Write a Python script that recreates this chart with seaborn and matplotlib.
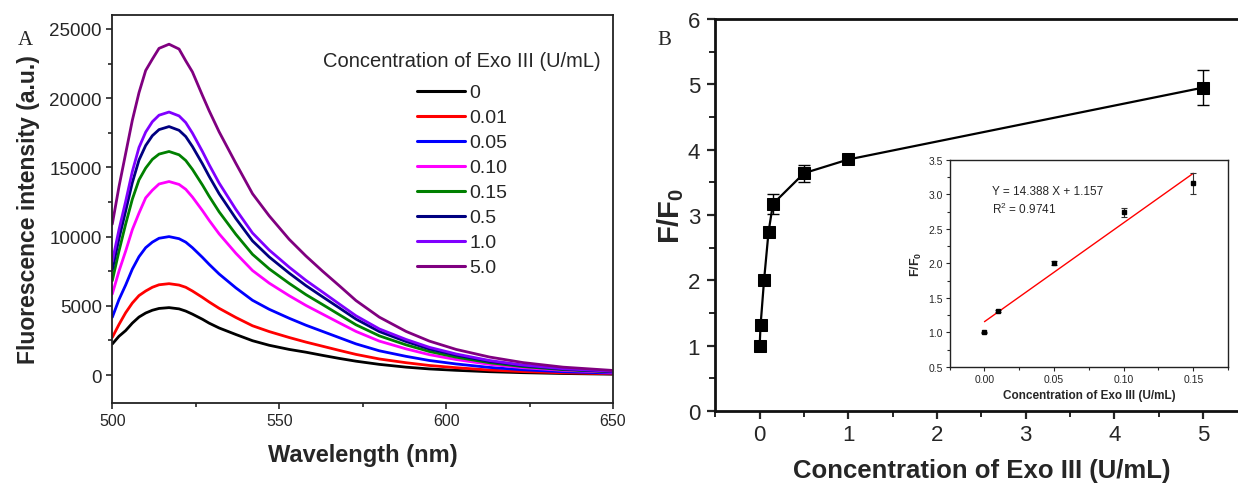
import numpy as np
import pandas as pd
import matplotlib
matplotlib.use("Agg")
import matplotlib.pyplot as plt
import seaborn as sns
from matplotlib.ticker import MultipleLocator, FormatStrFormatter

# ---------------- data: panel A (fluorescence spectra) ----------------
wavelength = [500, 502, 504, 506, 508, 510, 512, 514, 517, 520, 522, 524, 527, 529, 532, 537,
              542, 547, 553, 558, 563, 568, 573, 580, 588, 595, 603, 613, 623, 635, 650]
conc_labels = ["0", "0.01", "0.05", "0.10", "0.15", "0.5", "1.0", "5.0"]
int_0   = [2240, 2800, 3210, 3750, 4190, 4480, 4680, 4810, 4870, 4780, 4620, 4400, 4030, 3750, 3400, 2930,
           2480, 2150, 1850, 1650, 1420, 1200, 1000, 770, 570, 440, 340, 240, 170, 110, 60]
int_001 = [2720, 3650, 4500, 5200, 5740, 6070, 6340, 6520, 6600, 6500, 6340, 6070, 5610, 5280, 4820, 4160,
           3560, 3140, 2710, 2380, 2080, 1780, 1490, 1160, 890, 690, 530, 360, 250, 160, 90]
int_005 = [4170, 5450, 6500, 7650, 8550, 9200, 9600, 9880, 10000, 9850, 9600, 9200, 8500, 8000, 7300, 6300,
           5400, 4750, 4100, 3600, 3150, 2700, 2250, 1750, 1350, 1050, 800, 550, 380, 240, 140]
int_010 = [5850, 7500, 8950, 10500, 11700, 12800, 13350, 13800, 13980, 13770, 13420, 12860, 11880, 11180, 10200, 8800,
           7550, 6640, 5730, 5030, 4400, 3770, 3150, 2450, 1890, 1470, 1120, 770, 530, 340, 200]
int_015 = [6810, 8950, 10900, 12700, 14100, 14950, 15580, 15960, 16150, 15910, 15500, 14860, 13730, 12920, 11790, 10170,
           8720, 7670, 6620, 5810, 5090, 4360, 3630, 2830, 2180, 1700, 1290, 890, 610, 390, 230]
int_05  = [7600, 9850, 11850, 13900, 15530, 16580, 17290, 17730, 17950, 17680, 17230, 16510, 15260, 14360, 13100, 11310,
           9690, 8530, 7360, 6460, 5650, 4850, 4040, 3140, 2420, 1880, 1440, 990, 680, 430, 250]
int_10  = [8200, 10500, 12540, 14700, 16440, 17550, 18300, 18770, 19000, 18720, 18240, 17480, 16150, 15200, 13870, 11970,
           10260, 9030, 7790, 6840, 5990, 5130, 4280, 3330, 2570, 2000, 1520, 1050, 720, 460, 270]
int_50  = [10900, 13600, 16000, 18400, 20400, 22000, 22820, 23600, 23900, 23550, 22700, 21900, 20200, 19100, 17570, 15300,
           13100, 11500, 9800, 8600, 7500, 6450, 5380, 4180, 3150, 2450, 1850, 1300, 900, 570, 330]
spectra = [int_0, int_001, int_005, int_010, int_015, int_05, int_10, int_50]
line_colors = ["#000000", "#ff0000", "#0000ff", "#ff00ff", "#008000", "#000080", "#8000ff", "#800080"]

# ---------------- data: panel B ----------------
conc = [0, 0.01, 0.05, 0.10, 0.15, 0.5, 1.0, 5.0]
ratio = [1.00, 1.31, 2.01, 2.74, 3.17, 3.64, 3.85, 4.95]
ratio_err = [0.02, 0.02, 0.03, 0.06, 0.15, 0.13, 0.04, 0.27]

lin_conc = [0, 0.01, 0.05, 0.10, 0.15]
lin_ratio = [1.00, 1.31, 2.01, 2.74, 3.16]
lin_err = [0.01, 0.02, 0.03, 0.07, 0.15]

# ---------------- style ----------------
sns.set_theme(style="ticks")
plt.rcParams["font.family"] = ["Liberation Sans", "DejaVu Sans"]
plt.rcParams["mathtext.fontset"] = "custom"
plt.rcParams["mathtext.rm"] = "Liberation Sans"
plt.rcParams["mathtext.bf"] = "Liberation Sans:bold"

fig = plt.figure(figsize=(12.38, 4.89), dpi=100)

# ---------------- panel A ----------------
axA = fig.add_axes([0.0907, 0.1744, 0.4045, 0.7926])
rows = []
for lab, vals in zip(conc_labels, spectra):
    for w, v in zip(wavelength, vals):
        rows.append({"wl": w, "I": v, "conc": lab})
dfA = pd.DataFrame(rows)
sns.lineplot(data=dfA, x="wl", y="I", hue="conc", hue_order=conc_labels,
             palette=dict(zip(conc_labels, line_colors)), estimator=None,
             linewidth=2, ax=axA)
axA.set_xlim(500, 650)
axA.set_ylim(-2000, 26000)
axA.xaxis.set_major_locator(MultipleLocator(50))
axA.xaxis.set_minor_locator(MultipleLocator(25))
axA.yaxis.set_major_locator(MultipleLocator(5000))
axA.yaxis.set_minor_locator(MultipleLocator(2500))
axA.tick_params(axis="both", which="major", direction="out", length=4, width=1.2)
axA.tick_params(axis="both", which="minor", direction="out", length=3, width=1.2)
axA.tick_params(axis="y", labelsize=13.5)
axA.tick_params(axis="x", labelsize=11.5)
for s in axA.spines.values():
    s.set_linewidth(1.3)
    s.set_color("#222222")
axA.set_xlabel("Wavelength (nm)", fontsize=17, fontweight="bold", labelpad=11)
axA.set_ylabel("Fluorescence intensity (a.u.)", fontsize=16.5, fontweight="bold", labelpad=7)
h, l = axA.get_legend_handles_labels()
leg = axA.legend(h, l, title="Concentration of Exo III (U/mL)", loc="upper right",
                 bbox_to_anchor=(1.003, 0.943), frameon=False, fontsize=14, title_fontsize=14.5,
                 handlelength=2.45, handletextpad=0.22, labelspacing=0.38, borderpad=0.2)
leg._legend_box.sep = 10
for line in leg.get_lines():
    line.set_linewidth(2.2)

# ---------------- panel B ----------------
axB = fig.add_axes([0.5778, 0.1575, 0.4299, 0.8016])
sns.lineplot(x=conc, y=ratio, ax=axB, color="black", linewidth=1.6, marker="s",
             markersize=9, markeredgecolor="black", markerfacecolor="black", estimator=None)
axB.errorbar(conc, ratio, yerr=ratio_err, fmt="none", ecolor="black",
             elinewidth=1.0, capsize=4, capthick=1.0)
axB.set_xlim(-0.5, 5.5)
axB.set_ylim(0, 6)
axB.xaxis.set_major_locator(MultipleLocator(1))
axB.xaxis.set_minor_locator(MultipleLocator(0.5))
axB.yaxis.set_major_locator(MultipleLocator(1))
axB.yaxis.set_minor_locator(MultipleLocator(0.5))
axB.tick_params(axis="both", which="major", direction="out", length=6, width=1.6, labelsize=16)
axB.tick_params(axis="y", which="major", pad=5)
axB.tick_params(axis="both", which="minor", direction="out", length=4, width=1.4)
for s in axB.spines.values():
    s.set_linewidth(2)
    s.set_color("#111111")
axB.set_xlabel("Concentration of Exo III (U/mL)", fontsize=18.5, fontweight="bold", labelpad=9)
axB.set_ylabel(r"F/F$_{\mathbf{0}}$", fontsize=21, fontweight="bold", labelpad=1)

# ---------------- inset ----------------
axI = fig.add_axes([0.7671, 0.248, 0.2249, 0.4227])
sns.regplot(x=lin_conc, y=lin_ratio, ax=axI, scatter=False, ci=None, color="red",
            line_kws=dict(linewidth=1.0))
axI.errorbar(lin_conc, lin_ratio, yerr=lin_err, fmt="s", markersize=3, color="black",
             ecolor="#333333", elinewidth=0.8, capsize=2, capthick=0.8)
axI.set_xlim(-0.025, 0.175)
axI.set_ylim(0.5, 3.5)
axI.xaxis.set_major_locator(MultipleLocator(0.05))
axI.xaxis.set_minor_locator(MultipleLocator(0.025))
axI.yaxis.set_major_locator(MultipleLocator(0.5))
axI.yaxis.set_minor_locator(MultipleLocator(0.25))
axI.xaxis.set_major_formatter(FormatStrFormatter("%.2f"))
axI.yaxis.set_major_formatter(FormatStrFormatter("%.1f"))
axI.tick_params(axis="both", which="major", direction="out", length=3, width=0.8, labelsize=7.5, pad=2)
axI.tick_params(axis="both", which="minor", direction="out", length=2, width=0.8)
for s in axI.spines.values():
    s.set_linewidth(1.0)
    s.set_color("#222222")
axI.set_xlabel("Concentration of Exo III (U/mL)", fontsize=8.5, fontweight="bold", labelpad=4)
axI.set_ylabel(r"F/F$_{\mathbf{0}}$", fontsize=9, fontweight="bold", labelpad=3)
axI.text(0.0055, 3.05, "Y = 14.388 X + 1.157", fontsize=8.5, va="center", ha="left")
axI.text(0.0055, 2.80, r"R$^2$ = 0.9741", fontsize=8.5, va="center", ha="left")

# ---------------- panel letters ----------------
fig.text(0.0145, 0.918, "A", fontsize=15, family="Liberation Serif", va="center")
fig.text(0.531, 0.918, "B", fontsize=15, family="Liberation Serif", va="center")

fig.savefig("out.png", dpi=100)
